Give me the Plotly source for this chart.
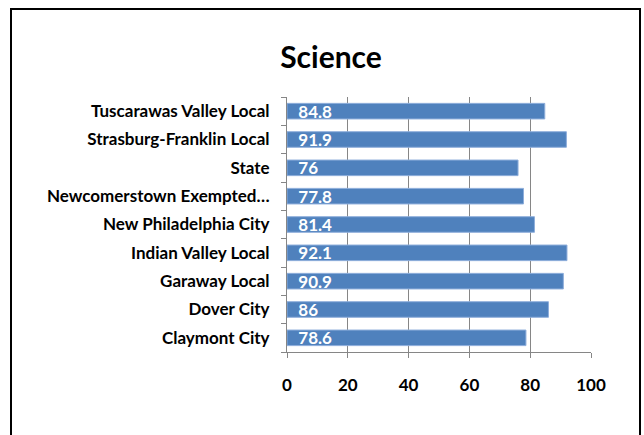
import plotly.graph_objects as go

categories = [
    "Claymont City",
    "Dover City",
    "Garaway Local",
    "Indian Valley Local",
    "New Philadelphia City",
    "Newcomerstown Exempted…",
    "State",
    "Strasburg-Franklin Local",
    "Tuscarawas Valley Local",
]
values = [78.6, 86, 90.9, 92.1, 81.4, 77.8, 76, 91.9, 84.8]
x_ticks = [0, 20, 40, 60, 80, 100]
title_text = "Science"

FONT = "Lato"

W, H = 644, 435
L, R, T, B = 287, 53, 97, 83
PW = W - L - R
PH = H - T - B


def px(fx):
    return (fx - L) / PW


def py(fy):
    return (H - B - fy) / PH


fig = go.Figure(
    go.Bar(
        y=categories,
        x=values,
        orientation="h",
        marker=dict(color="#4F81BD", line=dict(color="#8EAEDB", width=1)),
        texttemplate="\u00a0\u00a0%{x}",
        textposition="inside",
        insidetextanchor="start",
        textangle=0,
        insidetextfont=dict(family=FONT, size=17, color="white", weight="bold"),
        cliponaxis=False,
    )
)

fig.update_layout(
    width=W,
    height=H,
    margin=dict(l=L, r=R, t=T, b=B),
    paper_bgcolor="white",
    plot_bgcolor="white",
    bargap=0.45,
    showlegend=False,
    font=dict(family=FONT, color="black"),
    uniformtext=dict(minsize=8, mode="show"),
    title=dict(
        text=title_text,
        x=331 / W,
        xref="container",
        xanchor="center",
        y=1 - 57 / H,
        yref="container",
        yanchor="middle",
        font=dict(family=FONT, size=30, color="black", weight="bold"),
    ),
    xaxis=dict(
        range=[0, 100],
        tickvals=x_ticks,
        showgrid=True,
        gridcolor="#868686",
        gridwidth=1,
        zeroline=False,
        showline=True,
        linecolor="#868686",
        linewidth=1,
        ticks="outside",
        ticklen=5,
        tickcolor="#868686",
        ticklabelstandoff=13,
        tickfont=dict(family=FONT, size=17, color="black", weight="bold"),
        fixedrange=True,
    ),
    yaxis=dict(
        type="category",
        showline=True,
        linecolor="#868686",
        linewidth=1,
        ticks="outside",
        ticklen=5,
        tickcolor="#868686",
        tickson="boundaries",
        ticklabelstandoff=13,
        showgrid=False,
        tickfont=dict(family=FONT, size=17, color="black", weight="bold"),
        fixedrange=True,
    ),
    shapes=[
        dict(
            type="rect",
            xref="paper",
            yref="paper",
            x0=px(11),
            x1=px(640),
            y0=py(445),
            y1=py(9),
            line=dict(color="black", width=2),
            fillcolor="rgba(0,0,0,0)",
            layer="above",
        )
    ],
)

fig.write_html(
    "out.html",
    config={"displayModeBar": False},
    post_script="document.body.style.margin='0';document.body.style.overflow='hidden';",
)
